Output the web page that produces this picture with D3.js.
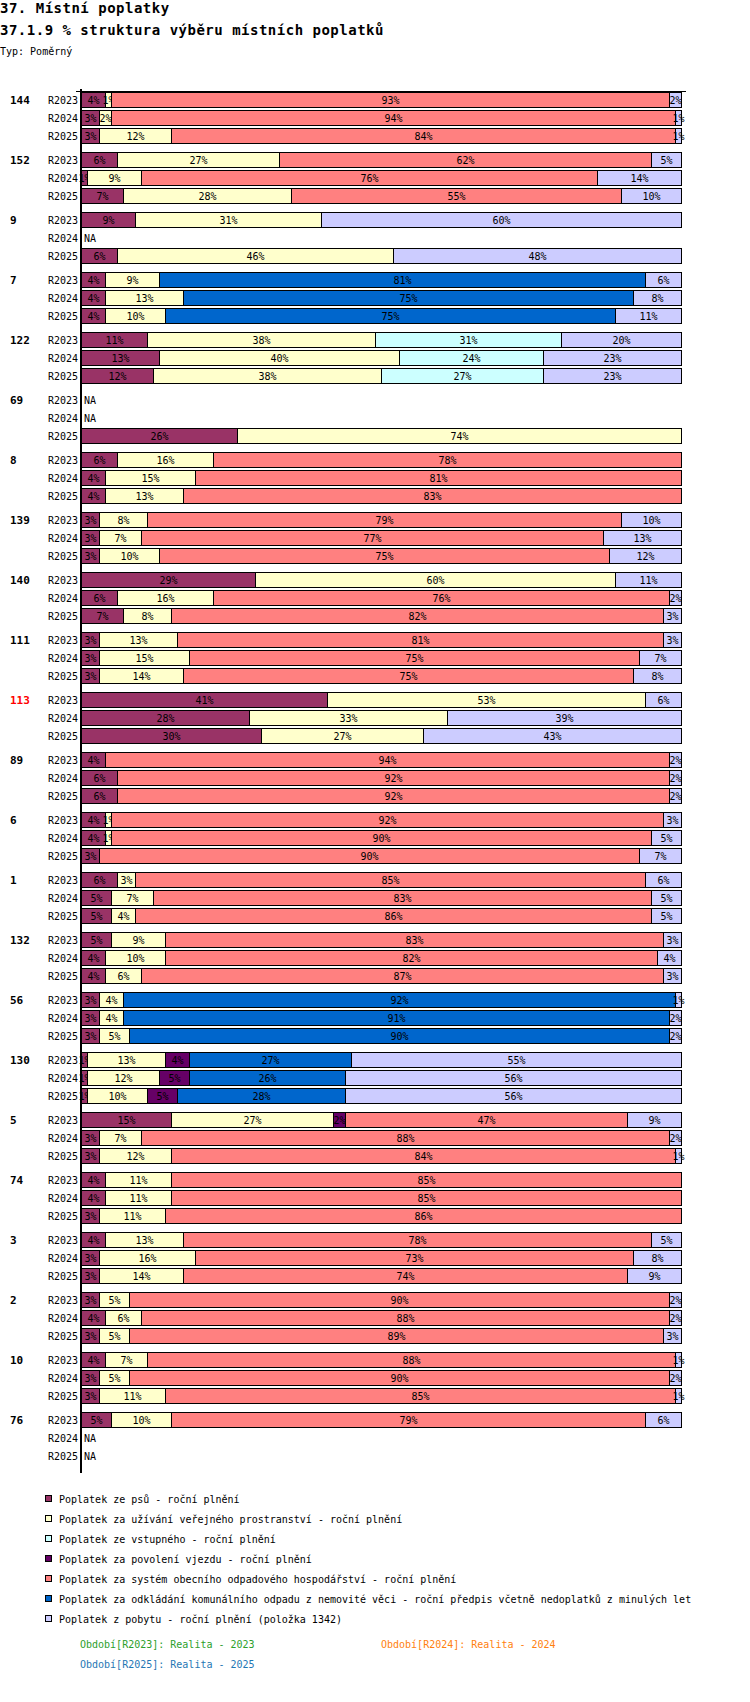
<!DOCTYPE html>
<html>
<head>
<meta charset="utf-8">
<script src="https://cdn.jsdelivr.net/npm/d3@7"></script>
<style>
  body { margin: 0; background: #fff; }
  text { font-family: "DejaVu Sans Mono", monospace; }
</style>
</head>
<body>
<script>
(function(){
  var width = 750, height = 1702;

  var groups = ["144","152","9","7","122","69","8","139","140","111","113","89","6","1","132","56","130","5","74","3","2","10","76"];
  var periods = ["R2023","R2024","R2025"];
  var highlighted = ["113"];
  var notAvailable = ["9|R2024","69|R2023","69|R2024","76|R2024","76|R2025"];

  var seriesNames = [
    "Poplatek ze psů - roční plnění",
    "Poplatek za užívání veřejného prostranství - roční plnění",
    "Poplatek ze vstupného - roční plnění",
    "Poplatek za povolení vjezdu - roční plnění",
    "Poplatek za systém obecního odpadového hospodářství - roční plnění",
    "Poplatek za odkládání komunálního odpadu z nemovité věci - roční předpis včetně nedoplatků z minulých let",
    "Poplatek z pobytu - roční plnění (položka 1342)"
  ];
  var seriesColors = ["#993366","#FFFFCC","#CCFFFF","#660066","#FF8080","#0066CC","#CCCCFF"];

  // one triplet (R2023, R2024, R2025) per group, same order as groups
  var psu      = [[4,3,3],[6,1,7],[9,0,6],[4,4,4],[11,13,12],[0,0,26],[6,4,4],[3,3,3],[29,6,7],[3,3,3],[41,28,30],[4,6,6],[4,4,3],[6,5,5],[5,4,4],[3,3,3],[1,1,1],[15,3,3],[4,4,3],[4,3,3],[3,4,3],[4,3,3],[5,0,0]];
  var uzivani  = [[1,2,12],[27,9,28],[31,0,46],[9,13,10],[38,40,38],[0,0,74],[16,15,13],[8,7,10],[60,16,8],[13,15,14],[53,33,27],[0,0,0],[1,1,0],[3,7,4],[9,10,6],[4,4,5],[13,12,10],[27,7,12],[11,11,11],[13,16,14],[5,6,5],[7,5,11],[10,0,0]];
  var vstupne  = [[0,0,0],[0,0,0],[0,0,0],[0,0,0],[31,24,27],[0,0,0],[0,0,0],[0,0,0],[0,0,0],[0,0,0],[0,0,0],[0,0,0],[0,0,0],[0,0,0],[0,0,0],[0,0,0],[0,0,0],[0,0,0],[0,0,0],[0,0,0],[0,0,0],[0,0,0],[0,0,0]];
  var vjezd    = [[0,0,0],[0,0,0],[0,0,0],[0,0,0],[0,0,0],[0,0,0],[0,0,0],[0,0,0],[0,0,0],[0,0,0],[0,0,0],[0,0,0],[0,0,0],[0,0,0],[0,0,0],[0,0,0],[4,5,5],[2,0,0],[0,0,0],[0,0,0],[0,0,0],[0,0,0],[0,0,0]];
  var odpad    = [[93,94,84],[62,76,55],[0,0,0],[0,0,0],[0,0,0],[0,0,0],[78,81,83],[79,77,75],[0,76,82],[81,75,75],[0,0,0],[94,92,92],[92,90,90],[85,83,86],[83,82,87],[0,0,0],[0,0,0],[47,88,84],[85,85,86],[78,73,74],[90,88,89],[88,90,85],[79,0,0]];
  var odklad   = [[0,0,0],[0,0,0],[0,0,0],[81,75,75],[0,0,0],[0,0,0],[0,0,0],[0,0,0],[0,0,0],[0,0,0],[0,0,0],[0,0,0],[0,0,0],[0,0,0],[0,0,0],[92,91,90],[27,26,28],[0,0,0],[0,0,0],[0,0,0],[0,0,0],[0,0,0],[0,0,0]];
  var pobyt    = [[2,1,1],[5,14,10],[60,0,48],[6,8,11],[20,23,23],[0,0,0],[0,0,0],[10,13,12],[11,2,3],[3,7,8],[6,39,43],[2,2,2],[3,5,7],[6,5,5],[3,4,3],[1,2,2],[55,56,56],[9,2,1],[0,0,0],[5,8,9],[2,2,3],[1,2,1],[6,0,0]];
  var series = [psu, uzivani, vstupne, vjezd, odpad, odklad, pobyt];

  var periodNotes = [
    { label: "Období[R2023]: Realita - 2023", color: "#2ca02c" },
    { label: "Období[R2024]: Realita - 2024", color: "#ff7f0e" },
    { label: "Období[R2025]: Realita - 2025", color: "#1f77b4" }
  ];

  var svg = d3.select("body").append("svg")
    .attr("width", width)
    .attr("height", height);

  // titles
  svg.append("text").attr("x", 0).attr("y", 13)
    .style("font-size", "14px").style("font-weight", "bold").style("letter-spacing", "0.5px")
    .text("37. Místní poplatky");
  svg.append("text").attr("x", 0).attr("y", 35)
    .style("font-size", "14px").style("font-weight", "bold").style("letter-spacing", "0.5px")
    .text("37.1.9 % struktura výběru místních poplatků");
  svg.append("text").attr("x", 0).attr("y", 55)
    .style("font-size", "10px")
    .text("Typ: Poměrný");

  var x = d3.scaleLinear().domain([0, 1]).range([81, 681]);
  var yGroup = d3.scaleBand().domain(groups).range([92, 92 + groups.length * 60]);
  var yRow = d3.scaleBand().domain(periods).range([0, 51]).paddingInner(1/6).paddingOuter(0);

  var chart = svg.append("g");

  groups.forEach(function(g, gi) {
    var gy = yGroup(g);
    chart.append("text")
      .attr("x", 10).attr("y", gy + yRow.bandwidth() / 2 + 4)
      .style("font-size", "11px").style("font-weight", "bold")
      .attr("fill", highlighted.indexOf(g) >= 0 ? "#ff0000" : "#000")
      .text(g);

    periods.forEach(function(p, pi) {
      var ry = gy + yRow(p);
      var cy = ry + yRow.bandwidth() / 2;
      chart.append("text")
        .attr("x", 78).attr("y", cy + 4)
        .attr("text-anchor", "end")
        .style("font-size", "10px")
        .text(p);

      if (notAvailable.indexOf(g + "|" + p) >= 0) {
        chart.append("text")
          .attr("x", 84).attr("y", cy + 4)
          .style("font-size", "10px")
          .text("NA");
        return;
      }

      var values = series.map(function(s) { return s[gi][pi]; });
      var total = d3.sum(values);
      var cum = 0;
      values.forEach(function(v, si) {
        if (!v) return;
        var x0 = Math.round(x(cum / total));
        cum += v;
        var x1 = Math.round(x(cum / total));
        chart.append("rect")
          .attr("x", x0 + 0.5).attr("y", ry + 0.5)
          .attr("width", x1 - x0).attr("height", yRow.bandwidth())
          .attr("fill", seriesColors[si])
          .attr("stroke", "#000").attr("stroke-width", 1);
        chart.append("text")
          .attr("x", (x0 + x1) / 2 + 0.5).attr("y", cy + 4)
          .attr("text-anchor", "middle")
          .style("font-size", "10px")
          .attr("fill", "#000")
          .text(Math.round(v / total * 100) + "%");
      });
    });
  });

  // axes
  var yEnd = yGroup(groups[groups.length - 1]) + 51 + 10;
  svg.append("line")
    .attr("x1", 81).attr("x2", 81).attr("y1", 89).attr("y2", yEnd)
    .attr("stroke", "#000").attr("stroke-width", 2);
  svg.append("line")
    .attr("x1", 76).attr("x2", 686).attr("y1", 91.5).attr("y2", 91.5)
    .attr("stroke", "#000").attr("stroke-width", 1);

  // legend
  var legend = svg.append("g");
  seriesNames.forEach(function(name, i) {
    var ly = 1499 + i * 20;
    legend.append("rect")
      .attr("x", 45.5).attr("y", ly - 3.5)
      .attr("width", 6).attr("height", 6)
      .attr("fill", seriesColors[i]).attr("stroke", "#000");
    legend.append("text")
      .attr("x", 59).attr("y", ly + 4)
      .style("font-size", "10px")
      .text(name);
  });

  periodNotes.forEach(function(n, i) {
    svg.append("text")
      .attr("x", i === 1 ? 381 : 80)
      .attr("y", (i === 2 ? 1664 : 1644) + 4)
      .style("font-size", "10px")
      .attr("fill", n.color)
      .text(n.label);
  });
})();
</script>
</body>
</html>
